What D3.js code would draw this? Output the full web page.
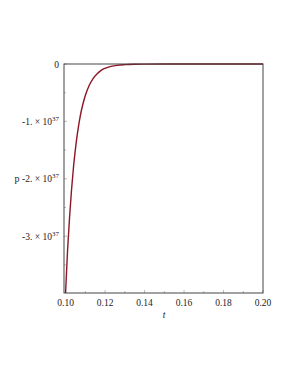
<!DOCTYPE html>
<html>
<head>
<meta charset="utf-8">
<script src="https://cdn.jsdelivr.net/npm/d3@7"></script>
<style>
  body { margin: 0; background: #fff; }
  text { font-family: "Liberation Serif", "DejaVu Serif", serif; fill: #222; }
</style>
</head>
<body>
<div id="chart"></div>
<script>
// values (p in units of 1e37)
var tValues = [0.100, 0.101, 0.102, 0.103, 0.104, 0.105, 0.106, 0.107, 0.108, 0.109,
               0.110, 0.112, 0.114, 0.116, 0.118, 0.120, 0.123, 0.126, 0.130, 0.135,
               0.140, 0.150, 0.160, 0.180, 0.200];
var pValues = [-3.99, -3.25, -2.68, -2.20, -1.80, -1.48, -1.21, -0.99, -0.81, -0.67,
               -0.55, -0.37, -0.25, -0.17, -0.11, -0.075, -0.042, -0.023, -0.011, -0.004,
               -0.0015, -0.0002, 0, 0, 0];
var xTicks = [0.10, 0.12, 0.14, 0.16, 0.18, 0.20];
var xMinor = [0.11, 0.13, 0.15, 0.17, 0.19];
var yTicks = [0, -1, -2, -3];
var yMinor = [-0.5, -1.5, -2.5, -3.5];

var width = 291, height = 376;
var box = { left: 64, top: 64, right: 263, bottom: 293 };

var svg = d3.select("#chart").append("svg")
    .attr("width", width)
    .attr("height", height);

var x = d3.scaleLinear().domain([0.0992, 0.20]).range([box.left, box.right]);
var y = d3.scaleLinear().domain([-3.99, 0]).range([box.bottom, box.top]);

// minor / major ticks (inside the box)
var tickG = svg.append("g").attr("stroke", "#aaa").attr("stroke-width", 0.8);
xTicks.concat(xMinor).forEach(function (v) {
    var len = xTicks.indexOf(v) >= 0 ? 3 : 2;
    tickG.append("line").attr("x1", x(v)).attr("x2", x(v))
        .attr("y1", box.bottom).attr("y2", box.bottom - len);
});
yTicks.concat(yMinor).forEach(function (v) {
    var len = yTicks.indexOf(v) >= 0 ? 3 : 2;
    tickG.append("line").attr("x1", box.left).attr("x2", box.left + len)
        .attr("y1", y(v)).attr("y2", y(v));
});

// the curve
var line = d3.line()
    .x(function (d) { return x(d[0]); })
    .y(function (d) { return y(d[1]); })
    .curve(d3.curveMonotoneX);

svg.append("path")
    .datum(d3.zip(tValues, pValues))
    .attr("d", line)
    .attr("fill", "none")
    .attr("stroke", "#8c1526")
    .attr("stroke-width", 1.4);

// boxed axes
svg.append("rect")
    .attr("x", box.left).attr("y", box.top)
    .attr("width", box.right - box.left).attr("height", box.bottom - box.top)
    .attr("fill", "none")
    .attr("stroke", "#444")
    .attr("stroke-width", 1);

// x tick labels
svg.append("g").selectAll("text")
    .data(xTicks)
    .join("text")
    .attr("x", function (d) { return x(d); })
    .attr("y", 306)
    .attr("text-anchor", "middle")
    .attr("font-size", 9.5)
    .text(function (d) { return d.toFixed(2); });

// y tick labels
var yl = svg.append("g").selectAll("text")
    .data(yTicks)
    .join("text")
    .attr("x", 59)
    .attr("y", function (d) { return y(d) + 3.5; })
    .attr("text-anchor", "end")
    .attr("font-size", 9.5);

yl.each(function (d) {
    var t = d3.select(this);
    if (d === 0) { t.text("0"); return; }
    t.append("tspan").text("-" + Math.abs(d) + ". \u00d7 10");
    t.append("tspan").attr("dy", -4).attr("font-size", 7).text("37");
});

// axis titles
svg.append("text")
    .attr("x", 17).attr("y", y(-2) + 3.5)
    .attr("text-anchor", "middle")
    .attr("font-size", 10)
    .text("p");

svg.append("text")
    .attr("x", 164).attr("y", 318)
    .attr("text-anchor", "middle")
    .attr("font-size", 9.5)
    .attr("font-style", "italic")
    .text("t");
</script>
</body>
</html>
